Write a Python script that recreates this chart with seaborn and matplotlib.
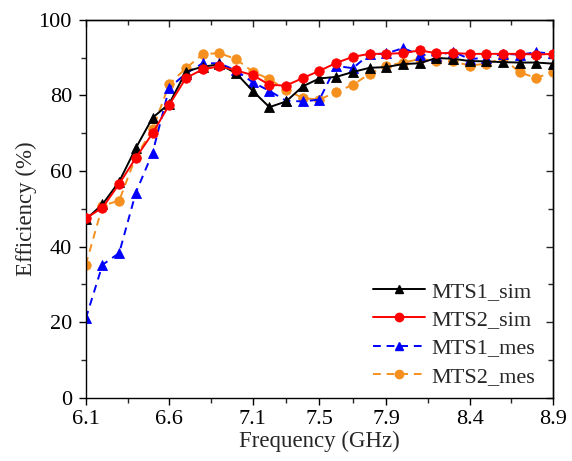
import numpy as np
import pandas as pd
import matplotlib
matplotlib.use("Agg")
import matplotlib.pyplot as plt
import seaborn as sns
from matplotlib.ticker import FixedLocator, MultipleLocator
from matplotlib.lines import Line2D

freq = [6.1, 6.2, 6.3, 6.4, 6.5, 6.6, 6.7, 6.8, 6.9, 7.0,
        7.1, 7.2, 7.3, 7.4, 7.5, 7.6, 7.7, 7.8, 7.9, 8.0,
        8.1, 8.2, 8.3, 8.4, 8.5, 8.6, 8.7, 8.8, 8.9]

mts1_sim = [47.2, 51.2, 57.2, 66.1, 74.1, 77.8, 86.3, 87.6, 88.2, 85.9,
            81.2, 76.9, 78.4, 82.4, 84.5, 84.9, 86.2, 87.3, 87.5, 88.3,
            88.5, 89.9, 89.7, 89.1, 89.0, 88.8, 88.7, 88.7, 88.4]
mts2_sim = [47.5, 50.3, 56.6, 63.5, 70.0, 77.5, 84.6, 86.9, 87.7, 86.6,
            85.4, 82.8, 82.6, 84.6, 86.5, 88.6, 90.2, 91.0, 91.0, 91.2,
            91.9, 91.2, 91.2, 91.0, 91.0, 91.0, 91.0, 90.8, 91.0]
mts1_mes = [21.0, 35.2, 38.3, 54.3, 64.8, 82.0, 85.8, 88.5, 88.5, 86.6,
            83.5, 81.2, 78.6, 78.4, 78.9, 87.8, 87.2, 90.9, 91.1, 92.5,
            90.8, 90.5, 91.6, 89.6, 90.0, 91.0, 90.8, 91.4, 91.1]
mts2_mes = [35.2, 50.8, 52.2, 63.8, 71.0, 83.0, 87.2, 90.9, 91.2, 89.6,
            86.3, 84.3, 81.5, 79.3, 78.9, 80.9, 82.8, 85.7, 87.8, 88.7,
            89.6, 89.2, 89.0, 87.9, 88.4, 89.8, 86.1, 84.6, 86.3]

names = ["MTS1_sim", "MTS2_sim", "MTS1_mes", "MTS2_mes"]
series = [mts1_sim, mts2_sim, mts1_mes, mts2_mes]
x_ticks = [6.1, 6.6, 7.1, 7.5, 7.9, 8.4, 8.9]

df = pd.concat([pd.DataFrame({"Frequency": freq, "Efficiency": v, "Series": n})
                for n, v in zip(names, series)], ignore_index=True)

colors = {"MTS1_sim": "black", "MTS2_sim": "#FF0000",
          "MTS1_mes": "#0000FF", "MTS2_mes": "#F5901E"}
markers = {"MTS1_sim": "^", "MTS2_sim": "o", "MTS1_mes": "^", "MTS2_mes": "o"}
dashes = {"MTS1_sim": "", "MTS2_sim": "", "MTS1_mes": (4, 3), "MTS2_mes": (4, 3)}

sns.set_theme(style="ticks")
plt.rcParams["font.family"] = ["Liberation Serif", "DejaVu Serif"]

fig = plt.figure(figsize=(5.72, 4.61), dpi=100)
ax = fig.add_axes([0.150, 0.137, 0.817, 0.820])

sns.lineplot(data=df, x="Frequency", y="Efficiency", hue="Series", style="Series",
             palette=colors, markers=markers, dashes=dashes, ax=ax,
             linewidth=1.4, markersize=6.8, markeredgewidth=0.6, legend=False,
             sort=False)
for line, n in zip(ax.lines, names):
    line.set_markeredgecolor(colors[n])
    line.set_zorder({"MTS1_sim": 3, "MTS2_sim": 4, "MTS1_mes": 2, "MTS2_mes": 1}[n])

ax.set_xlim(6.1, 8.9)
ax.set_ylim(0, 100)
ax.xaxis.set_major_locator(FixedLocator(x_ticks))
mids = [(a + b) / 2 for a, b in zip(x_ticks[:-1], x_ticks[1:])]
ax.xaxis.set_minor_locator(FixedLocator(mids))
ax.set_xticklabels([f"{t:.1f}" for t in x_ticks])
ax.yaxis.set_major_locator(MultipleLocator(20))
ax.yaxis.set_minor_locator(MultipleLocator(10))

ax.tick_params(axis="both", which="major", direction="out", length=5, width=1,
               labelsize=16, colors="black")
ax.tick_params(axis="x", which="major", pad=4)
ax.tick_params(axis="y", which="major", pad=5)
ax.tick_params(axis="both", which="minor", direction="out", length=3.5, width=1)

secx = ax.secondary_xaxis("top")
secx.xaxis.set_major_locator(FixedLocator(x_ticks))
secx.xaxis.set_minor_locator(FixedLocator(mids))
secx.tick_params(which="both", direction="in", labeltop=False, width=1)
secx.tick_params(which="major", length=5)
secx.tick_params(which="minor", length=3.5)
secy = ax.secondary_yaxis("right")
secy.yaxis.set_major_locator(MultipleLocator(20))
secy.yaxis.set_minor_locator(MultipleLocator(10))
secy.tick_params(which="both", direction="in", labelright=False, width=1)
secy.tick_params(which="major", length=5)
secy.tick_params(which="minor", length=3.5)

for sp in ax.spines.values():
    sp.set_visible(True)
    sp.set_linewidth(1.0)
    sp.set_color("black")
for s in (secx, secy):
    for sp in s.spines.values():
        sp.set_linewidth(1.0)

ax.set_xlabel("Frequency (GHz)", fontsize=16.5, labelpad=1)
ax.set_ylabel("Efficiency (%)", fontsize=16.5, labelpad=1)

handles = [Line2D([], [], color=colors[n], marker=markers[n], markersize=6,
                  markeredgecolor=colors[n], linewidth=1.4,
                  linestyle="-" if dashes[n] == "" else (0, (4, 3)))
           for n in names]
ax.legend(handles, names, loc="lower right", bbox_to_anchor=(0.985, 0.0),
          frameon=False, fontsize=16,
          handlelength=2.3, handletextpad=0.3, labelspacing=0.35,
          borderaxespad=0.1)

fig.savefig("out.png", dpi=100)
